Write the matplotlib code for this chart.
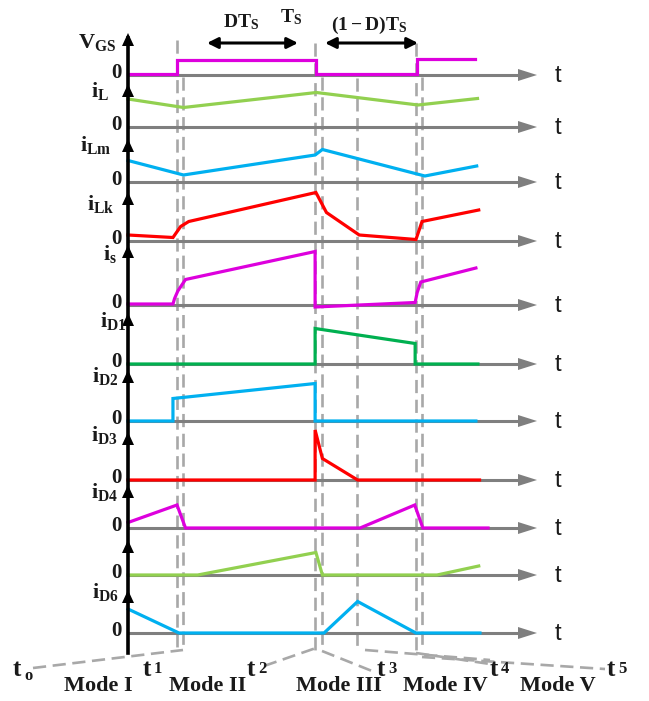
import matplotlib
matplotlib.use('Agg')
import matplotlib.pyplot as plt

plt.rcParams['mathtext.fontset'] = 'custom'
plt.rcParams['mathtext.rm'] = 'Liberation Serif:bold'
plt.rcParams['mathtext.it'] = 'Liberation Serif:bold'
plt.rcParams['mathtext.bf'] = 'Liberation Serif:bold'

# switching instants (time units, origin at the vertical axis)
t_bounds = [12.1, 13.7, 46.2, 47.8, 56.5, 71.1, 72.6]

# waveforms (time, value), arbitrary units
vgs_t = [0, 12.1, 12.1, 46.4, 46.4, 71.4, 71.4, 85.7]
vgs_v = [0.3, 0.3, 3.1, 3.1, 0.3, 0.3, 3.3, 3.3]
il_t = [0, 13.7, 46.5, 71.6, 86.3]
il_v = [5.6, 3.9, 6.9, 4.4, 5.7]
ilm_t = [0, 13.7, 46.2, 48.0, 73.3, 86.1]
ilm_v = [4.3, 1.4, 5.4, 6.5, 1.2, 3.2]
ilk_t = [0, 11.1, 13.0, 15.0, 46.4, 49.0, 57.1, 71.1, 72.6, 86.6]
ilk_v = [1.2, 0.7, 2.9, 3.9, 9.7, 5.7, 1.2, 0.3, 3.9, 6.2]
is_t = [0, 11.1, 11.5, 12.3, 14.2, 46.2, 46.2, 70.9, 71.4, 72.3, 85.9]
is_v = [0.2, 0.2, 1.3, 2.8, 5.1, 10.7, -0.4, 0.5, 2.5, 4.6, 7.4]
id1_t = [0, 46.2, 46.2, 70.9, 70.9, 86.4]
id1_v = [0, 0, 7.1, 4.1, 0, 0]
id2_t = [0, 11.1, 11.1, 46.2, 46.2, 85.9]
id2_v = [0, 0, 4.5, 7.5, 0, 0]
id3_t = [0, 46.2, 46.2, 48.0, 56.7, 86.8]
id3_v = [0, 0, 10.0, 4.3, 0, 0]
id4_t = [0, 12.1, 14.2, 57.3, 70.8, 72.8, 88.9]
id4_v = [1.1, 4.6, 0, 0, 4.6, 0, 0]
id5_t = [0, 17.2, 46.4, 48.0, 76.3, 86.6]
id5_v = [0, 0, 4.5, 0, 0, 1.8]
id6_t = [0, 12.6, 48.4, 56.7, 71.1, 86.9]
id6_v = [4.8, 0, 0, 6.3, 0, 0]

signals = [(vgs_t, vgs_v), (il_t, il_v), (ilm_t, ilm_v), (ilk_t, ilk_v),
           (is_t, is_v), (id1_t, id1_v), (id2_t, id2_v), (id3_t, id3_v),
           (id4_t, id4_v), (id5_t, id5_v), (id6_t, id6_v)]
names = [r'$\mathrm{V_{GS}}$', r'$\mathrm{i_{L}}$', r'$\mathrm{i_{Lm}}$', r'$\mathrm{i_{Lk}}$',
         r'$\mathrm{i_{s}}$', r'$\mathrm{i_{D1}}$', r'$\mathrm{i_{D2}}$', r'$\mathrm{i_{D3}}$',
         r'$\mathrm{i_{D4}}$', '', r'$\mathrm{i_{D6}}$']
colors = ['#DD00DD', '#92D050', '#00B0F0', '#FF0000', '#DD00DD', '#00B050',
          '#00B0F0', '#FF0000', '#DD00DD', '#92D050', '#00B0F0']
mode_names = ['Mode I', 'Mode II', 'Mode III', 'Mode IV', 'Mode V']
t_names = ['o', '1', '2', '3', '4', '5']

# layout (pixels from top-left of the 649x701 image)
X0, PXU, VS = 128, 4.05, 5.0
baselines = [75, 127, 182, 241, 305, 364, 421, 480, 528, 575, 633]
arrow_tips = [33, 84, 139, 192, 245, 313, 370, 432, 485, 540, 590]
label_xy = [(116, 48), (109, 97), (111, 151), (114, 210), (117, 260), (127, 327),
            (119, 382), (118, 441), (118, 498), (0, 0), (119, 598)]


def px(x):
    return (x - X0) / PXU


fig = plt.figure(figsize=(6.49, 7.01), dpi=100)
ax = fig.add_axes([0, 0, 1, 1])
ax.set_xlim(px(0), px(649))
ax.set_ylim(701, 0)
ax.axis('off')

gray = '#7F7F7F'
dash_c = '#A8A8A8'
txt_c = '#1A1A1A'

# dashed mode boundaries
starts = [40, 77, 43, 77, 78, 43, 77]
for tb, y0 in zip(t_bounds, starts):
    ax.plot([tb, tb], [y0, 650], color=dash_c, lw=1.9, dashes=(5, 2.5), zorder=1)

# horizontal time axes
for b in baselines:
    ax.plot([0, px(522)], [b, b], color=gray, lw=2.2, zorder=2, solid_capstyle='butt')
    ax.fill([px(518), px(537), px(518)], [b - 6, b, b + 6], color=gray, zorder=2, lw=0)
    ax.text(px(558), b + 1, 't', fontsize=17, family='Liberation Sans', color=txt_c,
            ha='center', va='center')
    ax.text(px(123), b - 3, r'$\mathrm{0}$', fontsize=15, color=txt_c, ha='right', va='center')

# waveforms
for (tt, vv), c, b in zip(signals, colors, baselines):
    ax.plot(tt, [b - v * VS for v in vv], color=c, lw=2.3, zorder=4,
            solid_joinstyle='miter')

# vertical axis with arrowheads
ax.plot([0, 0], [653, arrow_tips[0] + 5], color='black', lw=2.6, zorder=5)
for tip in arrow_tips:
    ax.fill([px(122), 0, px(134)], [tip + 13, tip, tip + 13], color='black', zorder=6, lw=0)

# signal labels
for nm, (lx, ly) in zip(names, label_xy):
    if nm:
        ax.text(px(lx), ly, nm, fontsize=16, color=txt_c, ha='right', va='baseline', zorder=7)

# period annotations
arr = dict(arrowstyle='<|-|>', color='black', lw=2.2, mutation_scale=16, shrinkA=0, shrinkB=0)
ax.annotate('', xy=(px(207), 43), xytext=(px(298), 43), arrowprops=arr)
ax.annotate('', xy=(px(325), 43), xytext=(px(418), 43), arrowprops=arr)
ax.text(px(241), 22, r'$\mathrm{DT_{S}}$', fontsize=14, color=txt_c, ha='center', va='center')
ax.text(px(291), 17, r'$\mathrm{T_{S}}$', fontsize=14, color=txt_c, ha='center', va='center')
ax.text(px(369), 25, r'$\mathrm{(1-D)T_{S}}$', fontsize=14, color=txt_c, ha='center', va='center')

# bottom guide lines to the time labels
guides = [((33, 668), (183, 650)), ((264, 666), (316, 648)), ((322, 651), (372, 671)),
          ((365, 650), (490, 660)), ((416, 653), (490, 664)), ((422, 657), (605, 669))]
for (xa, ya), (xb, yb) in guides:
    ax.plot([px(xa), px(xb)], [ya, yb], color=dash_c, lw=1.9, dashes=(5, 2.5), zorder=1)

# mode and instant labels
mode_x = [98, 208, 339, 445, 558]
for nm, mx in zip(mode_names, mode_x):
    ax.text(px(mx), 686, nm, fontsize=16, family='Liberation Serif', weight='bold',
            color=txt_c, ha='center', va='center')
tlab_x = [17, 147, 251, 381, 494, 611]
for i, (tn, tx) in enumerate(zip(t_names, tlab_x)):
    ax.text(px(tx), 670, 't', fontsize=18, family='Liberation Serif', weight='bold',
            color=txt_c, ha='center', va='center')
    dy = 7 if i == 0 else 0
    ax.text(px(tx + 7), 669 + dy, tn, fontsize=12, family='Liberation Serif', weight='bold',
            color=txt_c, ha='left', va='center')

fig.savefig('out.png', dpi=100, facecolor='white')
